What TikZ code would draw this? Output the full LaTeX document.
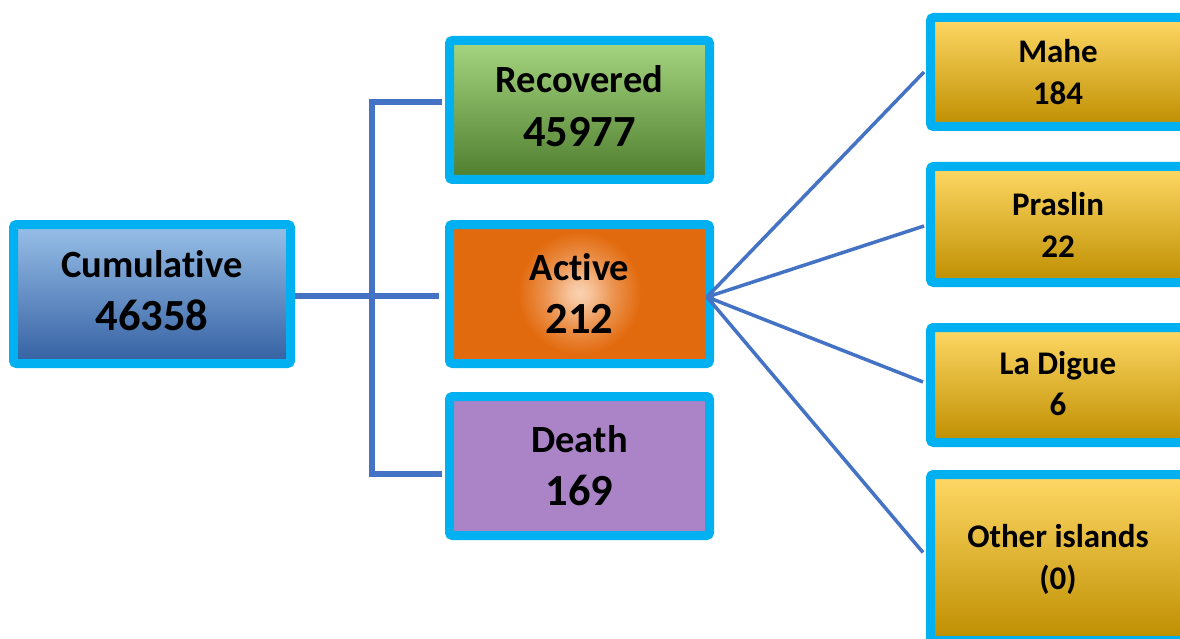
\documentclass[tikz,border=0pt]{standalone}
\usepackage{fontspec}
\setmainfont{Carlito}[Ligatures={NoCommon}]
\usetikzlibrary{backgrounds}
\definecolor{bordercyan}{RGB}{0,176,240}
\definecolor{linkblue}{RGB}{68,114,196}
\definecolor{cumtop}{RGB}{152,192,232}
\definecolor{cumbot}{RGB}{52,96,162}
\definecolor{rectop}{RGB}{166,214,128}
\definecolor{recbot}{RGB}{78,126,46}
\definecolor{actlight}{RGB}{250,210,178}
\definecolor{actmid}{RGB}{226,106,14}
\definecolor{actdark}{RGB}{190,86,16}
\definecolor{deathfill}{RGB}{170,132,199}
\definecolor{isltop}{RGB}{255,217,102}
\definecolor{islmid}{RGB}{255,192,0}
\definecolor{islbot}{RGB}{190,142,0}
\pgfdeclareradialshading{activefull}{\pgfpoint{0bp}{0bp}}{color(0bp)=(actlight); color(2bp)=(actlight!85!actmid); color(6bp)=(actlight!40!actmid); color(11bp)=(actmid); color(24bp)=(actmid); color(46bp)=(actdark); color(72bp)=(actdark)}
\tikzset{
  box/.style={draw=bordercyan, line width=9pt, rounded corners=3pt, inner sep=0pt},
  cumbox/.style={box, top color=cumtop, bottom color=cumbot, minimum width=277pt, minimum height=139pt},
  recbox/.style={box, top color=rectop, bottom color=recbot, minimum width=260pt, minimum height=139pt},
  actbox/.style={box, minimum width=260pt, minimum height=139pt,
    path picture={\shade[shading=activefull] ([yshift=1pt]path picture bounding box.center) ++(-140pt,-140pt) rectangle ++(280pt,280pt);}},
  deabox/.style={box, fill=deathfill, minimum width=260pt, minimum height=139pt},
  islbox/.style={box, top color=isltop, middle color=islmid, bottom color=islbot, minimum width=255pt},
  lab/.style={font=\fontsize{38.5}{40}\selectfont\bfseries, inner sep=0pt, anchor=base},
  num/.style={font=\fontsize{44.5}{46}\selectfont\bfseries, inner sep=0pt, anchor=base},
  isl/.style={font=\fontsize{33}{35}\selectfont\bfseries, inner sep=0pt, anchor=base},
  tree/.style={draw=linkblue, line width=5.5pt},
  fan/.style={draw=linkblue, line width=3.5pt},
}
\begin{document}
\begin{tikzpicture}[x=1pt, y=-1pt]
\useasboundingbox (0,0) rectangle (1180,639);
\clip (0,0) rectangle (1180,639);
% boxes
\node[cumbox] (cum) at (152,294) {};
\node[recbox] (rec) at (579.5,110) {};
\node[actbox] (act) at (579.5,294) {};
\node[deabox] (dea) at (579.5,466) {};
\node[islbox, minimum height=109pt] (mahe) at (1058,72) {};
\node[islbox, minimum height=116pt] (pras) at (1058,224.5) {};
\node[islbox, minimum height=115pt] (digue) at (1058,385) {};
\node[islbox, minimum height=166pt] (other) at (1058,557.5) {};
% texts
\node[lab] (cumA) at (152,277) {Cumulative};
\node[num] (cumB) at (152,330) {46358};
\node[lab] (recA) at (579.5,93) {Recovered};
\node[num] (recB) at (579.5,147) {45977};
\node[lab] (actA) at (579.5,280) {Active};
\node[num] (actB) at (579.5,333) {212};
\node[lab] (deaA) at (579.5,452) {Death};
\node[num] (deaB) at (579.5,505) {169};
\node[isl] (maheA) at (1058,63) {Mahe};
\node[isl] (maheB) at (1058,105) {184};
\node[isl] (prasA) at (1058,215) {Praslin};
\node[isl] (prasB) at (1058,257) {22};
\node[isl] (digueA) at (1058,374) {La Digue};
\node[isl] (digueB) at (1058,415) {6};
\node[isl] (otherA) at (1058,547) {Other islands};
\node[isl] (otherB) at (1058,589) {(0)};
% tree connectors
\coordinate (j1) at (372,102);
\coordinate (j2) at (372,474);
\begin{scope}[on background layer]
\fill[white] (0,0) rectangle (1180,639);
\draw[tree] ([yshift=-2pt]cum.east) -- ([xshift=-6pt,yshift=-2pt]act.west);
\draw[tree, line cap=rect] ([xshift=-6pt,yshift=8pt]rec.west) -- (j1) -- (j2) -- ([xshift=-6pt,yshift=-8pt]dea.west);
\end{scope}
% fan connectors
\coordinate (hub) at (707,297);
\draw[fan] (hub) -- ([xshift=-2pt]mahe.west);
\draw[fan] (hub) -- ([xshift=-2pt,yshift=-1.5pt]pras.west);
\draw[fan] (hub) -- ([xshift=-3pt,yshift=3pt]digue.west);
\draw[fan] (hub) -- ([xshift=-3pt,yshift=5pt]other.west);
\end{tikzpicture}
\end{document}
